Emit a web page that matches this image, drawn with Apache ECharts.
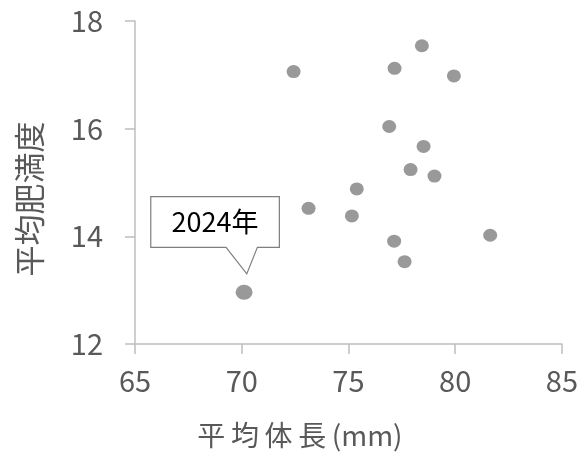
<!DOCTYPE html>
<html><head><meta charset="utf-8">
<script src="https://cdn.jsdelivr.net/npm/echarts@6/dist/echarts.min.js"></script>
<style>html,body{margin:0;padding:0;background:#fff}#c{width:581px;height:454px}</style>
</head><body><div id="c"></div>
<script>
const xName = '平\u2009均\u2009体\u2009長\u2009(mm)';
const yName = '平均肥満度';
const bodyLength = [72.43, 77.16, 78.44, 79.94, 76.91, 78.52, 77.91, 79.03, 75.39, 73.13, 75.16, 77.14, 77.63, 81.64];
const condition  = [17.06, 17.12, 17.54, 16.98, 16.04, 15.67, 15.24, 15.12, 14.88, 14.52, 14.38, 13.91, 13.53, 14.02];
const highlightLabel = '2024年';
const highlightX = 70.11;
const highlightY = 12.96;

const FONT = '"Noto Sans CJK JP", "Noto Sans", sans-serif';
const GRAY = '#7f7f7f';
const chart = echarts.init(document.getElementById('c'), null, {renderer: 'canvas'});
chart.setOption({
  animation: false,
  backgroundColor: '#fff',
  grid: {left: 135, right: 19, top: 21, bottom: 106, containLabel: false},
  xAxis: {
    type: 'value', min: 65, max: 85, interval: 5,
    name: xName, nameLocation: 'middle', nameGap: 77,
    nameTextStyle: {fontFamily: FONT, fontSize: 28, color: '#595959', padding: [0, 97, 0, 0]},
    axisLine: {show: true, lineStyle: {color: '#bfbfbf', width: 1.5}},
    axisTick: {show: true, inside: false, length: 10, lineStyle: {color: '#bfbfbf', width: 1.5}},
    axisLabel: {fontFamily: FONT, fontSize: 29, color: '#595959', margin: 22},
    splitLine: {show: false}
  },
  yAxis: {
    type: 'value', min: 12, max: 18, interval: 2,
    name: yName, nameLocation: 'middle', nameGap: 90, nameRotate: 90,
    nameTextStyle: {fontFamily: FONT, fontSize: 31, color: '#595959', padding: [0, 33, 0, 0]},
    axisLine: {show: true, lineStyle: {color: '#bfbfbf', width: 1.5}},
    axisTick: {show: true, inside: false, length: 10, lineStyle: {color: '#bfbfbf', width: 1.5}},
    axisLabel: {fontFamily: FONT, fontSize: 29, color: '#595959', margin: 32},
    splitLine: {show: false}
  },
  series: [
    {
      type: 'scatter', symbol: 'circle', symbolSize: [14, 13],
      itemStyle: {color: GRAY},
      data: bodyLength.map((x, i) => [x, condition[i]])
    },
    {
      type: 'scatter', symbol: 'circle', symbolSize: [17, 15],
      itemStyle: {color: GRAY},
      data: [[highlightX, highlightY]]
    }
  ]
});

const p = chart.convertToPixel({gridIndex: 0}, [highlightX, highlightY]);
const L = p[0] - 93.3, R = p[0] + 35.3, T = p[1] - 95.7, B = p[1] - 45;
const pl = p[0] - 18, pr = p[0] + 13.3, tip = [p[0] + 2.7, p[1] - 18.4];
chart.setOption({
  graphic: [
    {
      type: 'polygon', z: 100,
      shape: {points: [[L, T], [R, T], [R, B], [pr, B], tip, [pl, B], [L, B]]},
      style: {fill: '#fff', stroke: GRAY, lineWidth: 1.2}
    },
    {
      type: 'text', z: 101, x: (L + R) / 2, y: (T + B) / 2,
      style: {text: highlightLabel, fontFamily: FONT, fontSize: 27, fill: '#000', align: 'center', verticalAlign: 'middle'}
    }
  ]
});
</script></body></html>
